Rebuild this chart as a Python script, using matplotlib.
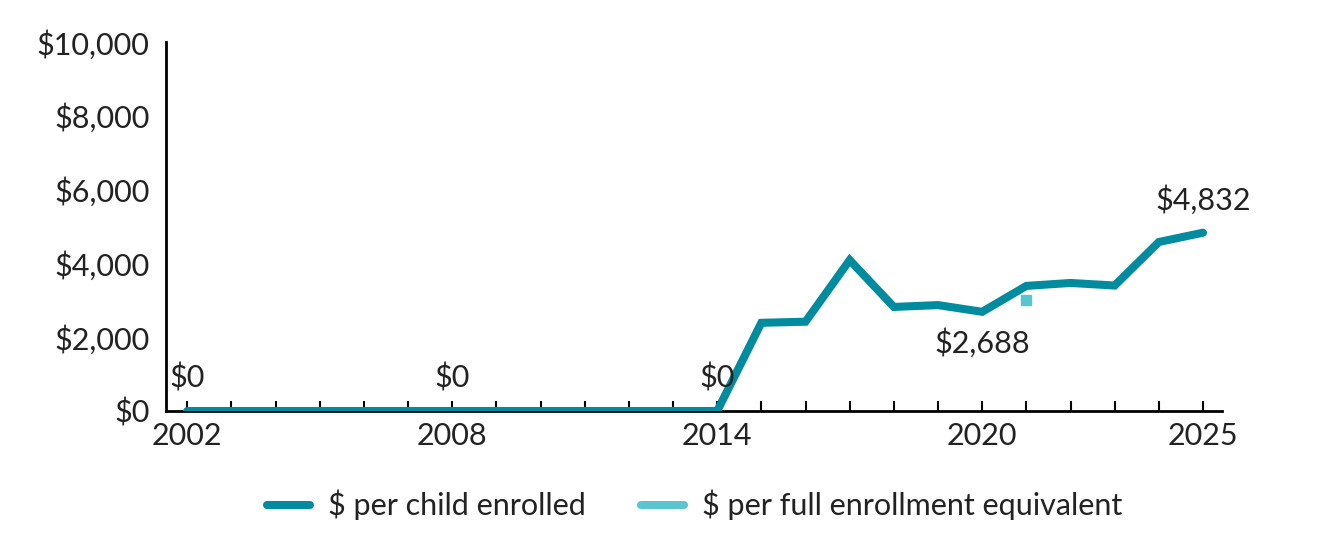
import matplotlib
matplotlib.use("Agg")
import matplotlib.pyplot as plt
import numpy as np
from matplotlib.lines import Line2D

plt.rcParams['font.family'] = ['Lato', 'DejaVu Sans']

years = list(range(2002, 2026))
per_child = [0]*13 + [2390, 2420, 4090, 2820, 2870, 2688, 3390, 3470, 3400, 4580, 4832]
fee_years = [2021]
fee_values = [3000]
ytick_vals = [0, 2000, 4000, 6000, 8000, 10000]
ytick_labels = ['$0', '$2,000', '$4,000', '$6,000', '$8,000', '$10,000']
xtick_vals = [2002, 2008, 2014, 2020, 2025]
labels = [(2002, 0, '$0', 'above'), (2008, 0, '$0', 'above'), (2014, 0, '$0', 'above'),
          (2020, 2688, '$2,688', 'below'), (2025, 4832, '$4,832', 'above')]

teal = '#008C9E'
light = '#5BC4D1'
txt = '#222222'
fs = 22

fig = plt.figure(figsize=(13.34, 5.41), dpi=100)
ax = fig.add_axes([166/1334, 1-411/541, (1222-166)/1334, (411-42)/541])

ax.plot(years, per_child, color=teal, lw=5.8, solid_capstyle='round', solid_joinstyle='miter', zorder=3)
ax.plot(fee_years, fee_values, ls='none', marker='s', ms=7.5, color=light, zorder=3)

for x, y, s, pos in labels:
    if pos == 'above':
        ax.annotate(s, (x, y), xytext=(0, 13), textcoords='offset points', ha='center', va='bottom',
                    fontsize=fs, color=txt)
    else:
        ax.annotate(s, (x, y), xytext=(0, -12), textcoords='offset points', ha='center', va='top',
                    fontsize=fs, color=txt)

ax.set_xlim(2001.52, 2025.43)
ax.set_ylim(0, 10000)
ax.set_yticks(ytick_vals)
ax.set_yticklabels(ytick_labels)
ax.set_xticks(years, minor=True)
ax.set_xticks(xtick_vals)
ax.set_xticklabels([str(v) for v in xtick_vals])
ax.tick_params(axis='y', length=0, pad=12, labelsize=fs, labelcolor=txt)
ax.tick_params(axis='x', which='both', direction='in', length=7, width=1.5, color='black')
ax.tick_params(axis='x', which='major', pad=8, labelsize=fs, labelcolor=txt)
for side in ['top', 'right']:
    ax.spines[side].set_visible(False)
for side in ['left', 'bottom']:
    ax.spines[side].set_linewidth(2)
    ax.spines[side].set_color('black')

handles = [Line2D([0], [0], color=teal, lw=5.8, solid_capstyle='round'),
           Line2D([0], [0], color=light, lw=5.8, solid_capstyle='round')]
fig.legend(handles, ['$ per child enrolled', '$ per full enrollment equivalent'],
           loc='center', bbox_to_anchor=(695/1334, 1-505/541), ncol=2, frameon=False,
           fontsize=fs, handlelength=1.4, columnspacing=1.8, handletextpad=0.6,
           labelcolor=txt)

fig.savefig('out.png', dpi=100)
